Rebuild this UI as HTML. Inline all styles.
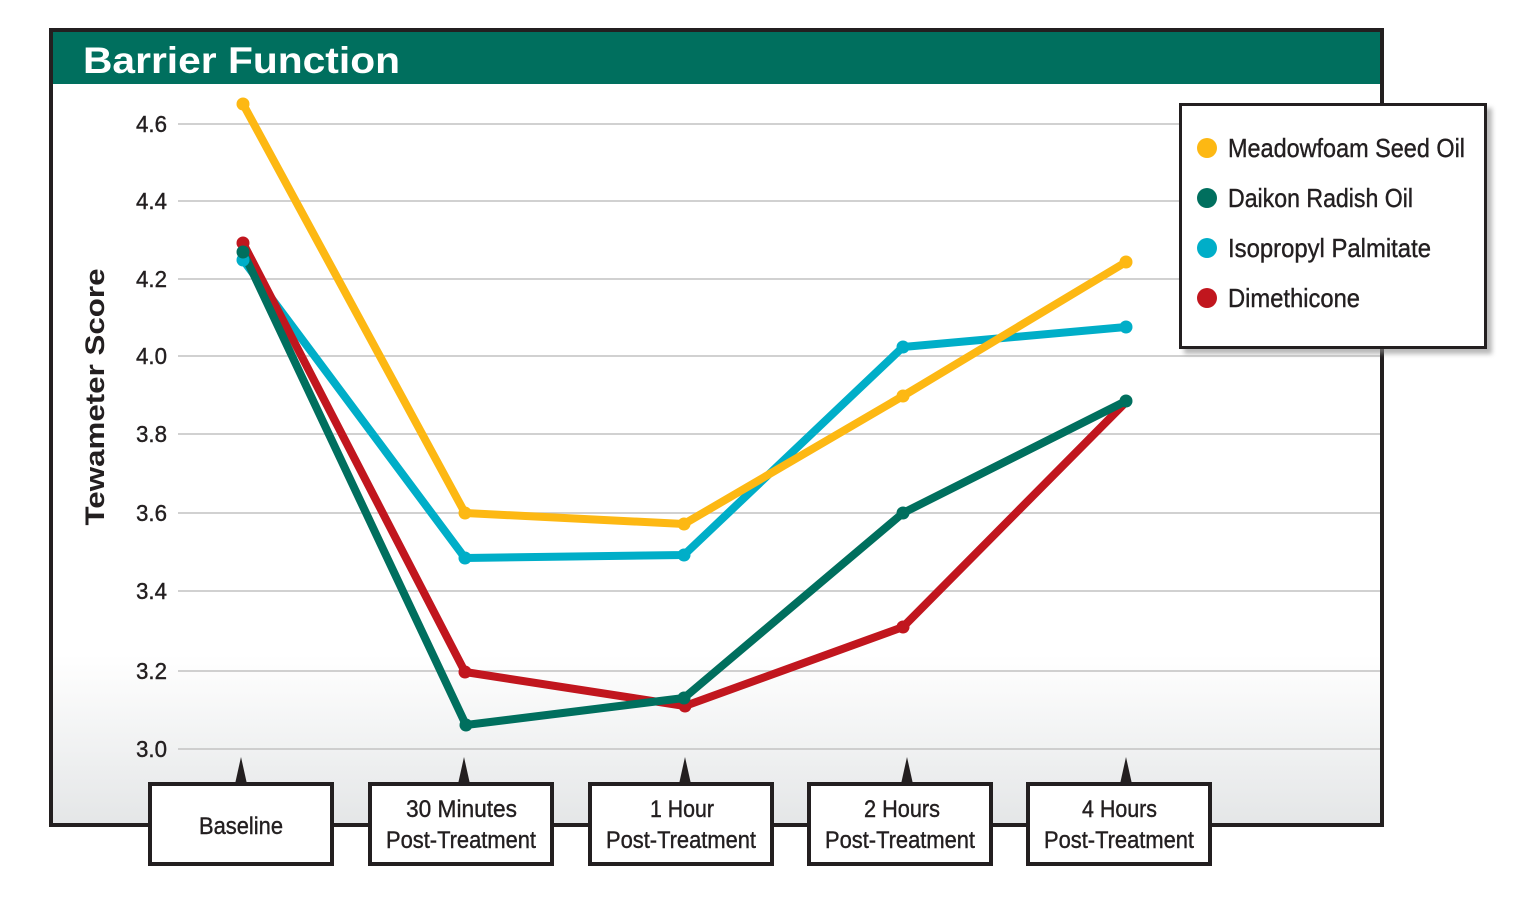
<!DOCTYPE html>
<html><head><meta charset="utf-8"><style>
html,body{margin:0;padding:0;background:#fff;}
svg{display:block;}
text{font-family:"Liberation Sans",sans-serif;}
</style></head><body>
<svg width="1533" height="909" viewBox="0 0 1533 909" xmlns="http://www.w3.org/2000/svg">
<defs>
<linearGradient id="bg" x1="0" y1="84" x2="0" y2="825" gradientUnits="userSpaceOnUse">
<stop offset="0" stop-color="#ffffff"/>
<stop offset="0.77" stop-color="#ffffff"/>
<stop offset="1" stop-color="#e4e6e7"/>
</linearGradient>
<filter id="sh" x="-10%" y="-10%" width="130%" height="130%">
<feGaussianBlur stdDeviation="2.5"/>
</filter>
</defs>
<rect x="0" y="0" width="1533" height="909" fill="#fff"/>
<!-- frame -->
<rect x="51" y="30" width="1331" height="795" fill="url(#bg)"/>
<rect x="53" y="32" width="1327" height="52" fill="#006F5E"/>
<rect x="51" y="30" width="1331" height="795" fill="none" stroke="#231f20" stroke-width="4"/>
<text x="83" y="73" font-size="37" font-weight="bold" fill="#fff" textLength="317" lengthAdjust="spacingAndGlyphs">Barrier Function</text>

<!-- gridlines -->
<g stroke="#c2c2c2" stroke-width="1.6">
<line x1="178" y1="124" x2="1380" y2="124"/>
<line x1="178" y1="201" x2="1380" y2="201"/>
<line x1="178" y1="279" x2="1380" y2="279"/>
<line x1="178" y1="356" x2="1380" y2="356"/>
<line x1="178" y1="434" x2="1380" y2="434"/>
<line x1="178" y1="513" x2="1380" y2="513"/>
<line x1="178" y1="591" x2="1380" y2="591"/>
<line x1="178" y1="671" x2="1380" y2="671"/>
<line x1="178" y1="749" x2="1380" y2="749"/>
</g>
<g font-size="23" fill="#231f20" stroke="#231f20" stroke-width="0.4" text-anchor="end">
<text x="167" y="132" textLength="31" lengthAdjust="spacingAndGlyphs">4.6</text>
<text x="167" y="209" textLength="31" lengthAdjust="spacingAndGlyphs">4.4</text>
<text x="167" y="287" textLength="31" lengthAdjust="spacingAndGlyphs">4.2</text>
<text x="167" y="364" textLength="31" lengthAdjust="spacingAndGlyphs">4.0</text>
<text x="167" y="442" textLength="31" lengthAdjust="spacingAndGlyphs">3.8</text>
<text x="167" y="521" textLength="31" lengthAdjust="spacingAndGlyphs">3.6</text>
<text x="167" y="599" textLength="31" lengthAdjust="spacingAndGlyphs">3.4</text>
<text x="167" y="679" textLength="31" lengthAdjust="spacingAndGlyphs">3.2</text>
<text x="167" y="757" textLength="31" lengthAdjust="spacingAndGlyphs">3.0</text>
</g>
<text transform="translate(104,397) rotate(-90)" text-anchor="middle" font-size="27" font-weight="bold" fill="#231f20" textLength="257" lengthAdjust="spacingAndGlyphs">Tewameter Score</text>

<!-- series -->
<g fill="none" stroke-width="8" stroke-linejoin="round" stroke-linecap="round">
<polyline stroke="#00AEC8" points="243,260 465,558 684,555 903,347 1126,327"/>
<polyline stroke="#C1161E" points="243,243 465,672 685,706 903,627 1126,402"/>
<polyline stroke="#006F5E" points="243,252 466,725 684,698 903,513 1126,401"/>
<polyline stroke="#FDB813" points="243,104 465,513 684,524 903,396 1126,262"/>
</g>
<g fill="#00AEC8"><circle cx="243" cy="260" r="6.5"/><circle cx="465" cy="558" r="6.5"/><circle cx="684" cy="555" r="6.5"/><circle cx="903" cy="347" r="6.5"/><circle cx="1126" cy="327" r="6.5"/></g>
<g fill="#C1161E"><circle cx="243" cy="243" r="6.5"/><circle cx="465" cy="672" r="6.5"/><circle cx="685" cy="706" r="6.5"/><circle cx="903" cy="627" r="6.5"/></g>
<g fill="#006F5E"><circle cx="243" cy="252" r="6.5"/><circle cx="466" cy="725" r="6.5"/><circle cx="684" cy="698" r="6.5"/><circle cx="903" cy="513" r="6.5"/><circle cx="1126" cy="401" r="6.5"/></g>
<g fill="#FDB813"><circle cx="243" cy="104" r="6.5"/><circle cx="465" cy="513" r="6.5"/><circle cx="684" cy="524" r="6.5"/><circle cx="903" cy="396" r="6.5"/><circle cx="1126" cy="262" r="6.5"/></g>

<!-- arrows -->
<g fill="#231f20">
<polygon points="241,757 235,784 247,784"/>
<polygon points="464,757 458,784 470,784"/>
<polygon points="685,757 679,784 691,784"/>
<polygon points="907,757 901,784 913,784"/>
<polygon points="1126,757 1120,784 1132,784"/>
</g>
<!-- x label boxes -->
<g fill="#fff" stroke="#231f20" stroke-width="4">
<rect x="150" y="784" width="182" height="80"/>
<rect x="370" y="784" width="182" height="80"/>
<rect x="590" y="784" width="182" height="80"/>
<rect x="809" y="784" width="182" height="80"/>
<rect x="1028" y="784" width="182" height="80"/>
</g>
<g font-size="24" fill="#231f20" stroke="#231f20" stroke-width="0.4">
<text x="199" y="834" textLength="84" lengthAdjust="spacingAndGlyphs">Baseline</text>
<text x="406" y="817" textLength="111" lengthAdjust="spacingAndGlyphs">30 Minutes</text>
<text x="386" y="848" textLength="150" lengthAdjust="spacingAndGlyphs">Post-Treatment</text>
<text x="650" y="817" textLength="64" lengthAdjust="spacingAndGlyphs">1 Hour</text>
<text x="606" y="848" textLength="150" lengthAdjust="spacingAndGlyphs">Post-Treatment</text>
<text x="864" y="817" textLength="76" lengthAdjust="spacingAndGlyphs">2 Hours</text>
<text x="825" y="848" textLength="150" lengthAdjust="spacingAndGlyphs">Post-Treatment</text>
<text x="1082" y="817" textLength="75" lengthAdjust="spacingAndGlyphs">4 Hours</text>
<text x="1044" y="848" textLength="150" lengthAdjust="spacingAndGlyphs">Post-Treatment</text>
</g>

<!-- legend -->
<rect x="1184" y="108" width="308" height="246" fill="#8a8a8a" opacity="0.6" filter="url(#sh)"/>
<rect x="1180.5" y="104.5" width="305" height="243" fill="#fff" stroke="#231f20" stroke-width="3"/>
<circle cx="1207" cy="148" r="10" fill="#FDB813"/>
<circle cx="1207" cy="198" r="10" fill="#006F5E"/>
<circle cx="1207" cy="248" r="10" fill="#00AEC8"/>
<circle cx="1207" cy="298" r="10" fill="#C1161E"/>
<g font-size="26" fill="#231f20" stroke="#231f20" stroke-width="0.4">
<text x="1228" y="157" textLength="237" lengthAdjust="spacingAndGlyphs">Meadowfoam Seed Oil</text>
<text x="1228" y="207" textLength="185" lengthAdjust="spacingAndGlyphs">Daikon Radish Oil</text>
<text x="1228" y="257" textLength="203" lengthAdjust="spacingAndGlyphs">Isopropyl Palmitate</text>
<text x="1228" y="307" textLength="132" lengthAdjust="spacingAndGlyphs">Dimethicone</text>
</g>
</svg>
</body></html>
